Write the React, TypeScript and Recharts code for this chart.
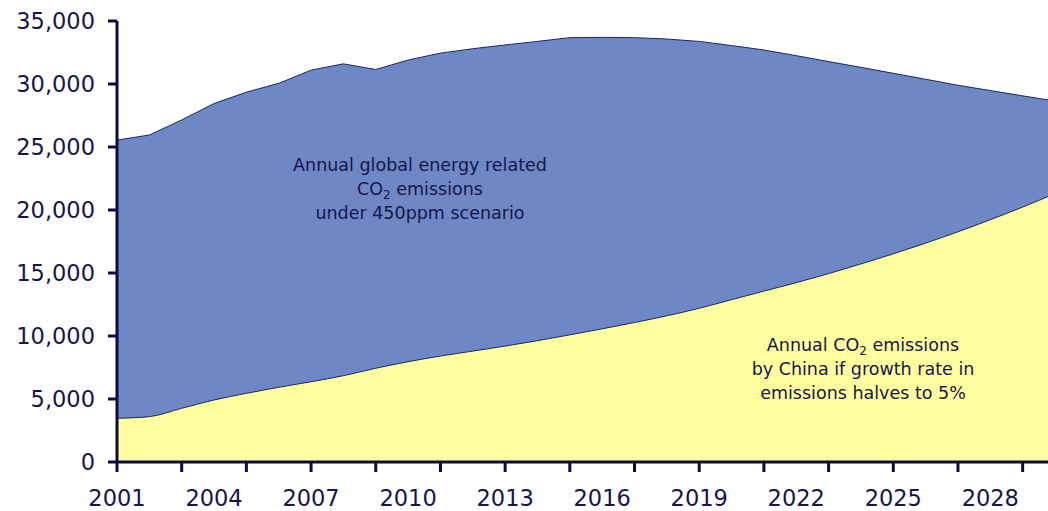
import React from 'react';
import { AreaChart, Area, XAxis, YAxis } from 'recharts';

// years shown on the horizontal axis
const years = [
  2001, 2002, 2003, 2004, 2005, 2006, 2007, 2008, 2009, 2010,
  2011, 2012, 2013, 2014, 2015, 2016, 2017, 2018, 2019, 2020,
  2021, 2022, 2023, 2024, 2025, 2026, 2027, 2028, 2029, 2030,
];

// annual global energy related CO2 emissions, 450ppm scenario (Mt)
const globalCO2 = [
  25550, 25950, 27150, 28450, 29350, 30050, 31100, 31600, 31150, 31900,
  32450, 32800, 33100, 33380, 33680, 33700, 33680, 33570, 33380, 33050,
  32700, 32250, 31780, 31320, 30850, 30380, 29900, 29480, 29060, 28650,
];

// annual CO2 emissions by China, growth rate halving to 5% (Mt)
const chinaCO2 = [
  3470, 3600, 4260, 4920, 5450, 5930, 6370, 6850, 7440, 7960,
  8410, 8800, 9200, 9630, 10090, 10570, 11070, 11600, 12200, 12880,
  13560, 14230, 14950, 15720, 16520, 17370, 18270, 19230, 20230, 21300,
];

const yTicks = [0, 5000, 10000, 15000, 20000, 25000, 30000, 35000];

const data = years.map((year, i) => ({ year, global: globalCO2[i], china: chinaCO2[i] }));

const AXIS = '#0b0b3e';
const TEXT = '#16164a';
const FONT = '"DejaVu Sans", Verdana, sans-serif';

const YearTick = (props: any) => {
  const { x, y, payload } = props;
  const yr = payload.value as number;
  return (
    <g>
      {(yr - 2001) % 2 === 0 && (
        <line x1={x} x2={x} y1={y} y2={y + 10} stroke={AXIS} strokeWidth={3} />
      )}
      {(yr - 2001) % 3 === 0 && (
        <text x={x} y={y + 44} textAnchor="middle" fill={TEXT} fontSize={22.5} fontFamily={FONT}>
          {yr}
        </text>
      )}
    </g>
  );
};

const note: React.CSSProperties = {
  position: 'absolute',
  textAlign: 'center',
  fontFamily: FONT,
  fontSize: 17.5,
  lineHeight: '24px',
  color: TEXT,
};

const sub: React.CSSProperties = { fontSize: 12, position: 'relative', top: 4, lineHeight: 0 };

export default function App() {
  return (
    <div style={{ position: 'absolute', left: 0, top: 0, width: 1048, height: 511, overflow: 'hidden', background: '#fff' }}>
      <AreaChart width={1055} height={511} data={data} margin={{ top: 21, right: 0, left: 0, bottom: 0 }}>
        <XAxis
          dataKey="year"
          type="number"
          domain={[2001, 2030]}
          ticks={years}
          interval={0}
          tickSize={0}
          tickMargin={0}
          tick={<YearTick />}
          axisLine={{ stroke: AXIS, strokeWidth: 3 }}
          height={49}
        />
        <YAxis
          type="number"
          domain={[0, 35000]}
          ticks={yTicks}
          interval={0}
          width={117}
          tickSize={9}
          tickMargin={13}
          tickFormatter={(v: number) => v.toLocaleString('en-US')}
          tick={{ fill: TEXT, fontSize: 22.5, fontFamily: FONT }}
          axisLine={{ stroke: AXIS, strokeWidth: 3 }}
          tickLine={{ stroke: AXIS, strokeWidth: 3 }}
        />
        <Area
          type="linear"
          dataKey="global"
          stroke="#1c2660"
          strokeWidth={1}
          fill="#6e88c6"
          fillOpacity={1}
          isAnimationActive={false}
        />
        <Area
          type="monotone"
          dataKey="china"
          stroke="#1c2660"
          strokeWidth={1}
          fill="#ffffa0"
          fillOpacity={1}
          isAnimationActive={false}
        />
      </AreaChart>
      <div style={{ ...note, left: 220, top: 153, width: 400 }}>
        Annual global energy related
        <br />
        CO<span style={sub}>2</span> emissions
        <br />
        under 450ppm scenario
      </div>
      <div style={{ ...note, left: 683, top: 333, width: 360 }}>
        Annual CO<span style={sub}>2</span> emissions
        <br />
        by China if growth rate in
        <br />
        emissions halves to 5%
      </div>
    </div>
  );
}
